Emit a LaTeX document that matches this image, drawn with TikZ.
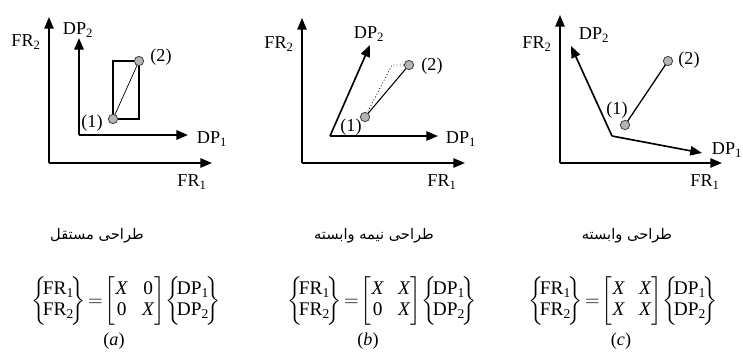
\documentclass[tikz,border=0pt]{standalone}
\usepackage{amsmath}
\usepackage{fontspec}
\setmainfont{Liberation Serif}
\newfontfamily\persianfont[Script=Arabic]{DejaVu Sans}
\TeXXeTstate=1
\usetikzlibrary{arrows.meta}
\definecolor{pointgray}{HTML}{B4B4B4}
\newcommand{\vecbrace}[2]{\left\{\!\begin{matrix}\text{#1\textsubscript{1}}\\ \text{#1\textsubscript{2}}\end{matrix}\!\right\}}
\newcommand{\desmat}[4]{$\setlength{\arraycolsep}{6pt}\vecbrace{FR}{}\!=\!\begin{bmatrix}\text{#1} & \text{#2}\\ \text{#3} & \text{#4}\end{bmatrix}\!\vecbrace{DP}{}$}
\tikzset{
  axis/.style={line width=1.4pt,-{Triangle[length=10pt,width=8pt]}},
  pt/.style={circle,draw=black!75,fill=pointgray,line width=0.7pt,inner sep=0pt,minimum size=0.28cm},
  lbl/.style={inner sep=0pt,font=\fontsize{15.5}{18}\selectfont},
  eqtext/.style={inner sep=0pt,font=\fontsize{16.5}{18}\selectfont},
  captext/.style={inner sep=0pt,font=\fontsize{12.5}{14}\persianfont},
}

\begin{document}
\begin{tikzpicture}[x=0.03cm,y=-0.03cm]
  \useasboundingbox (0,0) rectangle (743,352);
  % (a) independent
  \coordinate (fa) at (49,163);
  \coordinate (fa1) at (212,163);
  \coordinate (fa2) at (49,17);
  \coordinate (da) at (79,135);
  \coordinate (da1) at (188,135);
  \coordinate (da2) at (79,38);
  \draw[axis] (fa) -- (fa1);
  \draw[axis] (fa) -- (fa2);
  \draw[axis,line width=1.8pt] (da) -- (da1);
  \draw[axis,line width=1.8pt] (da) -- (da2);
  \coordinate (pa1) at (113,119);
  \coordinate (pa2) at (139,61);
  \draw[line width=1.2pt] (pa1) rectangle (pa2);
  \draw[line width=0.6pt] (pa1) -- (pa2);
  \node[pt] (na1) at (pa1) {};
  \node[pt] (na2) at (pa2) {};
  \node[lbl] (la1) at (92,123) {(1)};
  \node[lbl] (la2) at (161,57) {(2)};
  \node[lbl] (lfa2) at (26,42) {FR\textsubscript{2}};
  \node[lbl] (lfa1) at (192,182) {FR\textsubscript{1}};
  \node[lbl] (lda2) at (78,30) {DP\textsubscript{2}};
  \node[lbl] (lda1) at (212,139) {DP\textsubscript{1}};
  % (b) decoupled
  \coordinate (fb) at (302,163);
  \coordinate (fb1) at (465,163);
  \coordinate (fb2) at (302,18);
  \coordinate (db) at (330,136);
  \coordinate (db1) at (438,136);
  \coordinate (db2) at (370,45);
  \draw[axis] (fb) -- (fb1);
  \draw[axis] (fb) -- (fb2);
  \draw[axis] (db) -- (db1);
  \draw[axis] (db) -- (db2);
  \coordinate (pb1) at (365,117);
  \coordinate (pb2) at (409,65);
  \coordinate (kb) at (392,65);
  \draw[dotted,line width=0.7pt] (pb1) -- (kb) -- (pb2);
  \draw[line width=0.9pt] (pb1) -- (pb2);
  \node[pt] (nb1) at (pb1) {};
  \node[pt] (nb2) at (pb2) {};
  \node[lbl] (lb1) at (351,127) {(1)};
  \node[lbl] (lb2) at (432,66) {(2)};
  \node[lbl] (lfb2) at (279,44) {FR\textsubscript{2}};
  \node[lbl] (lfb1) at (442,182) {FR\textsubscript{1}};
  \node[lbl] (ldb2) at (369,34) {DP\textsubscript{2}};
  \node[lbl] (ldb1) at (461,139) {DP\textsubscript{1}};
  % (c) coupled
  \coordinate (fc) at (560,163);
  \coordinate (fc1) at (722,163);
  \coordinate (fc2) at (560,15);
  \coordinate (dc) at (612,136);
  \coordinate (dc1) at (702,153);
  \coordinate (dc2) at (571,46);
  \draw[axis] (fc) -- (fc1);
  \draw[axis] (fc) -- (fc2);
  \draw[axis] (dc) -- (dc1);
  \draw[axis] (dc) -- (dc2);
  \coordinate (pc1) at (625,125);
  \coordinate (pc2) at (668,61);
  \draw[line width=1.1pt] (pc1) -- (pc2);
  \node[pt] (nc1) at (pc1) {};
  \node[pt] (nc2) at (pc2) {};
  \node[lbl] (lc1) at (617,110) {(1)};
  \node[lbl] (lc2) at (689,60) {(2)};
  \node[lbl] (lfc2) at (537,44) {FR\textsubscript{2}};
  \node[lbl] (lfc1) at (705,182) {FR\textsubscript{1}};
  \node[lbl] (ldc2) at (594,35) {DP\textsubscript{2}};
  \node[lbl] (ldc1) at (727,150) {DP\textsubscript{1}};
  % captions and matrices
  \node[captext] (capa) at (97,236) {\beginR طراحی مستقل\endR};
  \node[captext] (capb) at (374,236) {\beginR طراحی نیمه وابسته\endR};
  \node[captext] (capc) at (627,236) {\beginR طراحی وابسته\endR};
  \node[eqtext] (eqa) at (126,301) {\desmat{\textit{X}}{0}{0}{\textit{X}}};
  \node[eqtext] (eqb) at (382,301) {\desmat{\textit{X}}{\textit{X}}{0}{\textit{X}}};
  \node[eqtext] (eqc) at (623,301) {\desmat{\textit{X}}{\textit{X}}{\textit{X}}{\textit{X}}};
  \node[lbl] (taga) at (114,341) {(\textit{a})};
  \node[lbl] (tagb) at (368,341) {(\textit{b})};
  \node[lbl] (tagc) at (621,341) {(\textit{c})};
\end{tikzpicture}
\end{document}
